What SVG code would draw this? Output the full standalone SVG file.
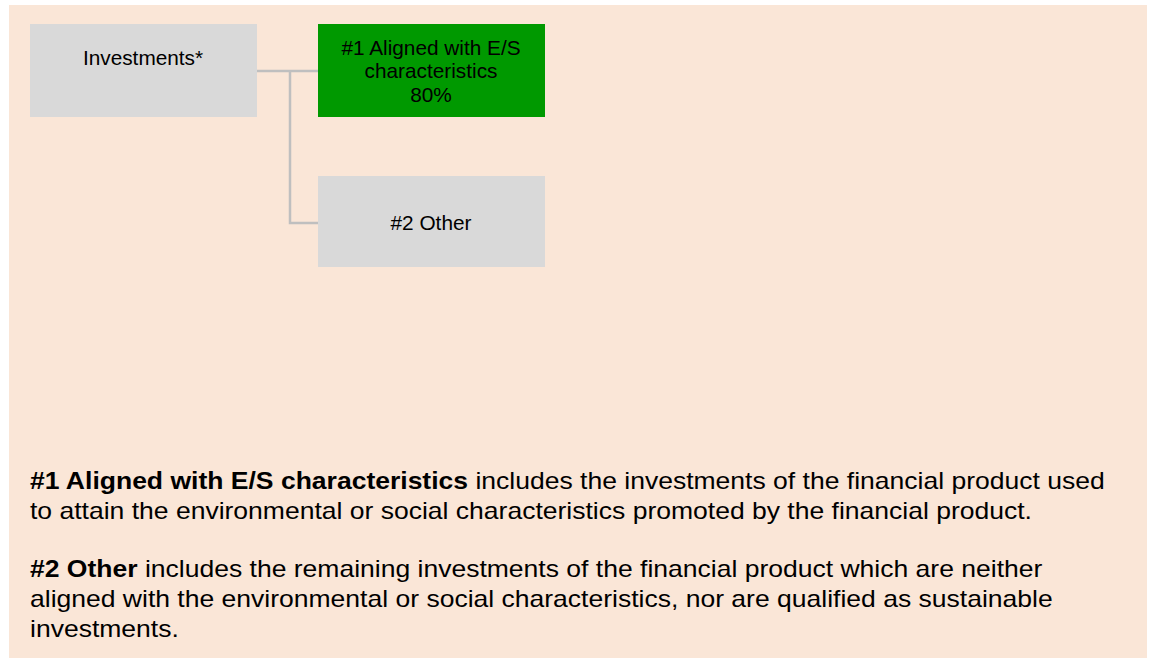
<svg xmlns="http://www.w3.org/2000/svg" width="1152" height="660" viewBox="0 0 1152 660">
<style>
.t{font-family:"Liberation Sans",Arial,sans-serif;fill:#000}
.bx{font-size:20.8px;text-anchor:middle}
.body{font-size:24px}
.b{font-weight:bold}
.gray{fill:#D9D9D9}
.conn{fill:none;stroke:#BFBFBF;stroke-width:2.5}
</style>
<rect x="0" y="0" width="1152" height="660" fill="#FFFFFF"/>
<rect x="9" y="5" width="1138" height="653" fill="#FAE6D7"/>
<g id="connectors">
<path class="conn" d="M257 71 H318 M290 71 V223 H318"/>
</g>
<g id="investments">
<rect class="gray" x="30" y="24" width="227" height="93"/>
<text class="t bx" x="143" y="64.5">Investments*</text>
</g>
<g id="aligned">
<rect x="318" y="24" width="227" height="93" fill="#009900"/>
<text class="t bx" x="431" y="55">#1 Aligned with E/S</text>
<text class="t bx" x="431" y="78">characteristics</text>
<text class="t bx" x="431" y="101.5">80%</text>
</g>
<g id="other">
<rect class="gray" x="318" y="176" width="227" height="91"/>
<text class="t bx" x="431" y="230">#2 Other</text>
</g>
<g id="legend" transform="translate(30,0) scale(1.105,1)">
<text class="t body" x="0" y="489"><tspan class="b">#1 Aligned with E/S characteristics</tspan> includes the investments of the financial product used</text>
<text class="t body" x="0" y="519">to attain the environmental or social characteristics promoted by the financial product.</text>
<text class="t body" x="0" y="577"><tspan class="b">#2 Other</tspan> includes the remaining investments of the financial product which are neither</text>
<text class="t body" x="0" y="607">aligned with the environmental or social characteristics, nor are qualified as sustainable</text>
<text class="t body" x="0" y="637">investments.</text>
</g>
</svg>
